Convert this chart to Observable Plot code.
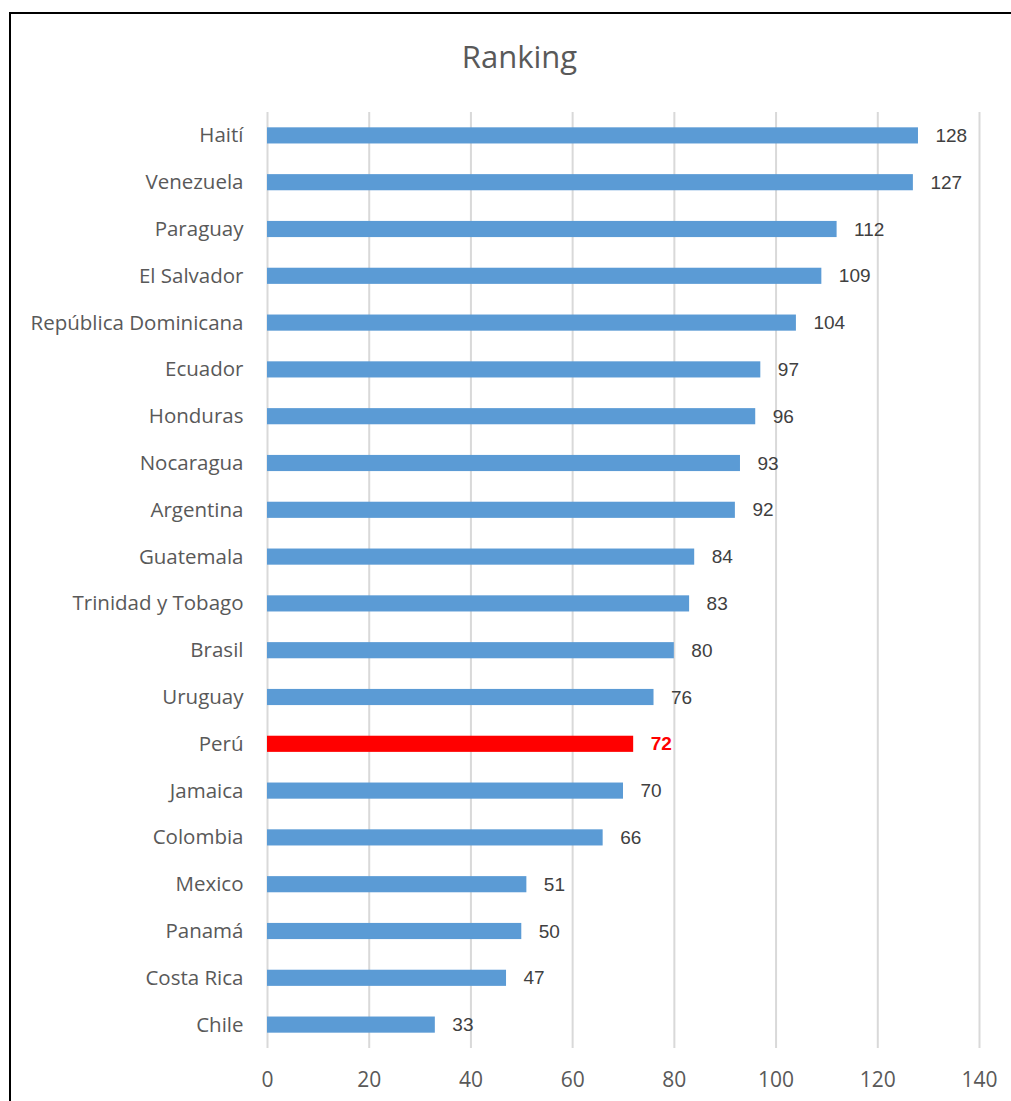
<!DOCTYPE html>
<html>
<head>
<meta charset="utf-8">
<script src="https://cdn.jsdelivr.net/npm/d3@7"></script>
<script src="https://cdn.jsdelivr.net/npm/@observablehq/plot@0.6"></script>
<style>
  html, body { margin: 0; padding: 0; background: #fff; overflow: hidden; }
  #wrap { position: relative; width: 1011px; height: 1101px; overflow: hidden; }
  #frame { position: absolute; left: 9px; top: 12px; width: 1100px; height: 1200px;
           border-left: 2px solid #000; border-top: 2px solid #000; pointer-events: none; }
  #chart { position: absolute; left: 0; top: 0; }
</style>
</head>
<body>
<div id="wrap">
  <div id="chart"></div>
  <div id="frame"></div>
</div>
<script>
const title = "Ranking";
const countries = ["Haití","Venezuela","Paraguay","El Salvador","República Dominicana","Ecuador","Honduras","Nocaragua","Argentina","Guatemala","Trinidad y Tobago","Brasil","Uruguay","Perú","Jamaica","Colombia","Mexico","Panamá","Costa Rica","Chile"];
const ranks = [128,127,112,109,104,97,96,93,92,84,83,80,76,72,70,66,51,50,47,33];
const highlight = "Perú";
const xTicks = [0,20,40,60,80,100,120,140];

const data = countries.map((c, i) => ({country: c, rank: ranks[i]}));
const normal = data.filter(d => d.country !== highlight);
const hi = data.filter(d => d.country === highlight);

const labelFont = "'Open Sans', Lato, sans-serif";
const numFont = "'Liberation Sans Narrow', 'Liberation Sans', Arial, sans-serif";

const chart = Plot.plot({
  width: 1011,
  height: 1101,
  marginLeft: 267,
  marginRight: 32,
  marginTop: 112,
  marginBottom: 53,
  style: {fontFamily: labelFont, background: "white"},
  x: {domain: [0, 140], ticks: xTicks, label: null},
  y: {domain: countries, paddingInner: 0.655, paddingOuter: 0.3275, round: false, label: null},
  marks: [
    Plot.gridX(xTicks, {stroke: "#d9d9d9", strokeOpacity: 1, strokeWidth: 2}),
    Plot.axisX(xTicks, {tickSize: 0, tickPadding: 24, fontSize: 21, fill: "#595959", fontFamily: labelFont, label: null}),
    Plot.axisY({tickSize: 0, tickPadding: 24, fontSize: 20.5, fill: "#595959", fontFamily: labelFont, label: null}),
    Plot.barX(normal, {x: "rank", y: "country", fill: "#5b9bd5"}),
    Plot.barX(hi, {x: "rank", y: "country", fill: "#ff0000"}),
    Plot.text(normal, {x: "rank", y: "country", text: d => String(d.rank), dx: 17, textAnchor: "start", fill: "#404040", fontSize: 19, fontFamily: numFont}),
    Plot.text(hi, {x: "rank", y: "country", text: d => String(d.rank), dx: 17, textAnchor: "start", fill: "#ff0000", fontSize: 19, fontWeight: "bold", fontFamily: numFont}),
    Plot.text([title], {frameAnchor: "top", lineAnchor: "middle", text: d => d, dy: -54, dx: -104, fontSize: 31, fill: "#595959", fontFamily: labelFont})
  ]
});
document.getElementById("chart").appendChild(chart);
</script>
</body>
</html>
